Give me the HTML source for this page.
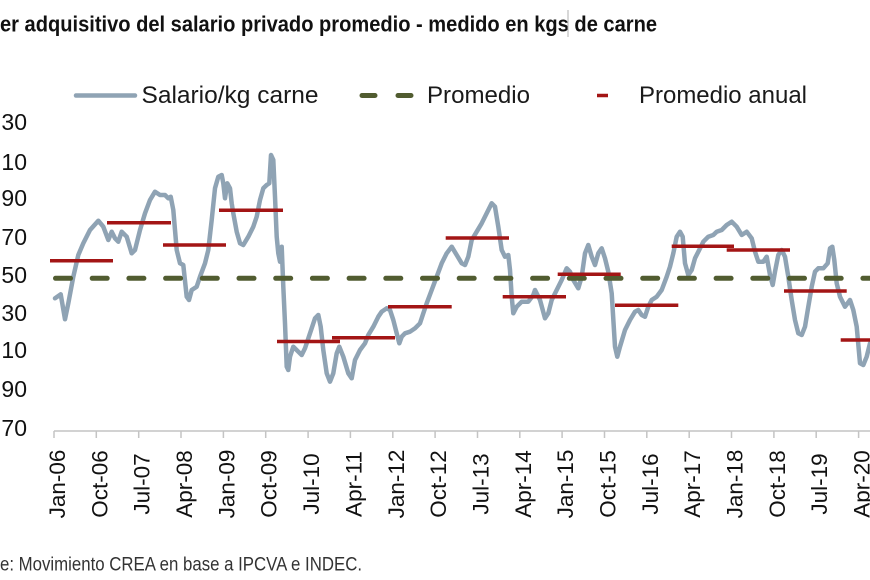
<!DOCTYPE html>
<html>
<head>
<meta charset="utf-8">
<style>
  html,body{margin:0;padding:0;background:#fff;}
  svg{display:block;}
  text{font-family:"Liberation Sans", sans-serif;}
</style>
</head>
<body>
<svg width="870" height="580" viewBox="0 0 870 580" xmlns="http://www.w3.org/2000/svg">
  <rect width="870" height="580" fill="#fff"/>

  <!-- Title -->
  <text x="0" y="31.5" font-size="22" font-weight="bold" fill="#111" textLength="657" lengthAdjust="spacingAndGlyphs">er adquisitivo del salario privado promedio - medido en kgs de carne</text>
  <line x1="568" y1="10" x2="568" y2="37" stroke="#b0b0b0" stroke-width="1"/>

  <!-- Legend -->
  <line x1="76" y1="95.5" x2="135" y2="95.5" stroke="#8fa3b4" stroke-width="4.5" stroke-linecap="round"/>
  <text x="141.5" y="103" font-size="24" fill="#1a1a1a" textLength="177" lengthAdjust="spacingAndGlyphs">Salario/kg carne</text>
  <line x1="362" y1="95.5" x2="375" y2="95.5" stroke="#515c30" stroke-width="5" stroke-linecap="round"/>
  <line x1="398" y1="95.5" x2="411" y2="95.5" stroke="#515c30" stroke-width="5" stroke-linecap="round"/>
  <text x="427" y="103" font-size="24" fill="#1a1a1a" textLength="103" lengthAdjust="spacingAndGlyphs">Promedio</text>
  <line x1="597" y1="95.5" x2="608" y2="95.5" stroke="#a31515" stroke-width="3.5"/>
  <text x="639" y="103" font-size="24" fill="#1a1a1a" textLength="168" lengthAdjust="spacingAndGlyphs">Promedio anual</text>

  <!-- Y axis labels -->
  <g font-size="23" fill="#111" text-anchor="end">
    <text x="27" y="130">30</text>
    <text x="27" y="170">10</text>
    <text x="27" y="206">90</text>
    <text x="27" y="245">70</text>
    <text x="27" y="283">50</text>
    <text x="27" y="321">30</text>
    <text x="27" y="358">10</text>
    <text x="27" y="397">90</text>
    <text x="27" y="436">70</text>
  </g>

  <!-- X axis -->
  <line x1="54" y1="431" x2="870" y2="431" stroke="#c4c4c4" stroke-width="1.5"/>
  <g stroke="#c4c4c4" stroke-width="1.5">
    <line x1="54" y1="431" x2="54" y2="438"/>
    <line x1="96.3" y1="431" x2="96.3" y2="438"/>
    <line x1="138.7" y1="431" x2="138.7" y2="438"/>
    <line x1="181" y1="431" x2="181" y2="438"/>
    <line x1="223.4" y1="431" x2="223.4" y2="438"/>
    <line x1="265.7" y1="431" x2="265.7" y2="438"/>
    <line x1="308.1" y1="431" x2="308.1" y2="438"/>
    <line x1="350.4" y1="431" x2="350.4" y2="438"/>
    <line x1="392.8" y1="431" x2="392.8" y2="438"/>
    <line x1="435.1" y1="431" x2="435.1" y2="438"/>
    <line x1="477.5" y1="431" x2="477.5" y2="438"/>
    <line x1="519.8" y1="431" x2="519.8" y2="438"/>
    <line x1="562.1" y1="431" x2="562.1" y2="438"/>
    <line x1="604.5" y1="431" x2="604.5" y2="438"/>
    <line x1="646.8" y1="431" x2="646.8" y2="438"/>
    <line x1="689.2" y1="431" x2="689.2" y2="438"/>
    <line x1="731.5" y1="431" x2="731.5" y2="438"/>
    <line x1="773.9" y1="431" x2="773.9" y2="438"/>
    <line x1="816.2" y1="431" x2="816.2" y2="438"/>
    <line x1="858.6" y1="431" x2="858.6" y2="438"/>
  </g>
  <g font-size="22.5" fill="#111" text-anchor="middle">
    <text transform="translate(65,484) rotate(-90)">Jan-06</text>
    <text transform="translate(107.3,484) rotate(-90)">Oct-06</text>
    <text transform="translate(149.7,484) rotate(-90)">Jul-07</text>
    <text transform="translate(192,484) rotate(-90)">Apr-08</text>
    <text transform="translate(234.4,484) rotate(-90)">Jan-09</text>
    <text transform="translate(276.7,484) rotate(-90)">Oct-09</text>
    <text transform="translate(319.1,484) rotate(-90)">Jul-10</text>
    <text transform="translate(361.4,484) rotate(-90)">Apr-11</text>
    <text transform="translate(403.8,484) rotate(-90)">Jan-12</text>
    <text transform="translate(446.1,484) rotate(-90)">Oct-12</text>
    <text transform="translate(488.5,484) rotate(-90)">Jul-13</text>
    <text transform="translate(530.8,484) rotate(-90)">Apr-14</text>
    <text transform="translate(573.1,484) rotate(-90)">Jan-15</text>
    <text transform="translate(615.5,484) rotate(-90)">Oct-15</text>
    <text transform="translate(657.8,484) rotate(-90)">Jul-16</text>
    <text transform="translate(700.2,484) rotate(-90)">Apr-17</text>
    <text transform="translate(742.5,484) rotate(-90)">Jan-18</text>
    <text transform="translate(784.9,484) rotate(-90)">Oct-18</text>
    <text transform="translate(827.2,484) rotate(-90)">Jul-19</text>
    <text transform="translate(869.6,484) rotate(-90)">Apr-20</text>
  </g>

  <!-- Series line -->
  <polyline fill="none" stroke="#8fa3b4" stroke-width="4.5" stroke-linejoin="round" stroke-linecap="round" points="
55,298.3 60.7,294.3 65,319.3 68.3,303.3 73.3,276.7 78.3,255 83.3,243.3 90,230 98.3,220.7 103.3,226.7 108.3,240 111.7,231.7 115,238.3 118.3,241.7 121.7,231.7 126.7,236.7 131.7,253.3 135,250 140,230 145,213.3 150,200 155,191.7 160,195 165,195 168.3,198.3 170.7,196.7 173.3,210 175,230 176.7,250 180,263.3 183.3,265 186.7,296.7 189,300 191.7,290 196.7,286.7 200,276.7 205,263.3 208.3,250 211.7,220 215,188.3 218.3,176.7 221.7,175 223.3,183.3 225,198.3 227.3,183.3 230,188.3 231.7,203.3 233.3,213.3 236.7,231.7 240,243.3 243.3,245 248.3,236.7 253.3,226.7 256.7,216.7 260,200 263.3,188.3 266.7,185 269.3,183.3 271,155 273.3,160 275,196.7 276.7,236.7 278.3,253.3 280,261.7 281.7,246.7 283.3,286.7 285,323.3 286.7,366.7 288.3,370
290,356.7 293.3,346.7 298.3,351.7 301.7,355 305,348.3 310,333.3 315,318.3 318.3,315 320.7,326.7 323.3,350 326.7,373.3 330,381.7 333.3,373.3 336.7,353.3 339.3,346.7 343.3,356.7 348.3,373.3 351.7,378.3 355,360 360,350 365,343.3 368.3,335 373.3,326.7 378.3,316.7 381.7,311.7 386.7,308.3 390,310 393.3,320 396.7,333.3 399.3,343.3 401.7,336.7 405,333.3 410,331.7 415,328.3 420,323.3 423.3,313.3 426.7,303.3 431.7,290 436.7,276.7 441.7,263.3 446.7,253.3 451.7,246.7 456.7,255 461.7,263.3 465,265 468.3,256.7 471.7,240 476.7,231.7 481.7,223.3 486.7,213.3 491.7,203.3 495,206.7 498.3,226.7 501.7,250 505,256.7 508.3,255 510,270 511.7,296.7 513.3,313.3 516.7,306.7 521.7,301.7 528.3,301.7 533.3,295
535,290 540,300 545,318.3 548.3,313.3 551.7,300 556.7,290 561.7,280 566.7,268.3 570,271.7 573.3,280 578.3,288.3 581.7,276.7 585,253.3 588.3,245 591.7,256.7 595,265 598.3,253.3 601.7,248.3 605,258.3 608.3,271.7 611.7,293.3 615,346.7 617.3,356.7 620,346.7 625,330 630,320 635,311.7 638.3,310 641.7,315 645,316.7 648.3,306.7 651.7,300 656.7,296.7 661.7,290 666.7,276.7 670,266.7 673.3,253.3 676.7,236.7 680,231.7 682.7,236.7 685,263.3 688.3,275 691.7,270 695,258.3 698.3,251.7 703.3,241.7 708.3,236.7 713.3,235 716.7,231.7 721.7,230 726.7,225 731.7,221.7 736.7,226.7 741.7,235 746.7,231.7 751.7,238.3 755,251.7 758.3,261.7 763.3,261.7 766.7,256.7 770,275 772.7,285 775,271.7 778.3,255 781.7,250 785,256.7 788.3,276.7 791.7,300 795,320 798.3,333.3 801.7,335 805,326.7 808.3,306.7 811.7,286.7 815,271.7 818.3,268.3 823.3,268.3 827.7,263.3 830,248.3 832.3,246.7 834.3,260 836.7,283.3 840,296.7 845,306.7 850,300 853.3,310 856.7,326.7 860,363.3 863.3,365 866.7,356.7 870,343.3"/>

  <!-- Promedio dashed -->
  <line x1="55.5" y1="278.3" x2="870" y2="278.3" stroke="#515c30" stroke-width="5" stroke-linecap="round" stroke-dasharray="15 21.7"/>

  <!-- Promedio anual -->
  <g stroke="#a31515" stroke-width="3.5">
    <line x1="50" y1="260.7" x2="113" y2="260.7"/>
    <line x1="107" y1="222.7" x2="171" y2="222.7"/>
    <line x1="163" y1="245" x2="226" y2="245"/>
    <line x1="219" y1="210.3" x2="283" y2="210.3"/>
    <line x1="277" y1="341.5" x2="340" y2="341.5"/>
    <line x1="332" y1="337.7" x2="395" y2="337.7"/>
    <line x1="388" y1="306.7" x2="451.7" y2="306.7"/>
    <line x1="445.7" y1="238" x2="509" y2="238"/>
    <line x1="502.7" y1="296.7" x2="566" y2="296.7"/>
    <line x1="557.7" y1="274.3" x2="620.7" y2="274.3"/>
    <line x1="615" y1="305.3" x2="678.3" y2="305.3"/>
    <line x1="671.7" y1="246.3" x2="734" y2="246.3"/>
    <line x1="726.7" y1="250" x2="790" y2="250"/>
    <line x1="784" y1="291" x2="846.7" y2="291"/>
    <line x1="840.7" y1="340" x2="870" y2="340"/>
  </g>

  <!-- Source -->
  <text x="0" y="570.5" font-size="19" fill="#333" textLength="362" lengthAdjust="spacingAndGlyphs">e: Movimiento CREA en base a IPCVA e INDEC.</text>
</svg>
</body>
</html>
